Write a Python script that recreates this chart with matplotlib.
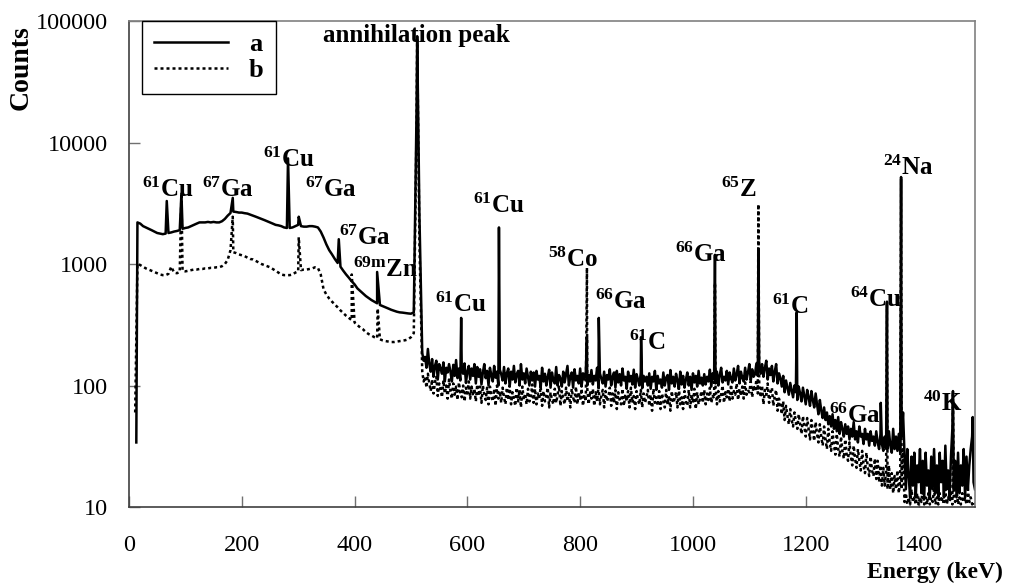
import matplotlib.pyplot as plt
import numpy as np

plt.rcParams['font.family'] = ['Liberation Serif', 'DejaVu Serif']
plt.rcParams['mathtext.fontset'] = 'custom'
plt.rcParams['mathtext.rm'] = 'Liberation Serif:bold'
plt.rcParams['mathtext.it'] = 'Liberation Serif:bold'
plt.rcParams['mathtext.bf'] = 'Liberation Serif:bold'
plt.rcParams['mathtext.default'] = 'rm'

# channel energies (keV): 5 keV bins up to 515, 2.5 keV bins from 520 to 1500
energy_low = np.arange(15, 520, 5)
energy_high = np.arange(520, 1500.1, 2.5)

# spectrum a (solid), 15..515 keV
a_low = [
    2200, 2150, 2050, 2000, 1950, 1900, 1850, 1800, 1780, 1760,
    1780, 1800, 1820, 1850, 1870, 1900, 1950, 1980, 2000, 2050,
    2100, 2150, 2200, 2200, 2200, 2220, 2200, 2220, 2200, 2200,
    2250, 2350, 2500, 2630, 2700, 2680, 2650, 2650, 2620, 2600,
    2550, 2500, 2450, 2400, 2350, 2300, 2250, 2200, 2150, 2100,
    2080, 2050, 2000, 1980, 1980, 2000, 2050, 2100, 2050, 2030,
    2030, 2050, 2050, 2030, 2000, 1850, 1650, 1450, 1300, 1200,
    1100, 1020, 950, 880, 820, 770, 720, 680, 630, 600,
    570, 545, 525, 505, 490, 475, 460, 450, 440, 430,
    420, 412, 405, 400, 398, 395, 392, 390, 400, 20000,
    2500,
]
# spectrum a, 520..1500 keV (one row per 100 keV)
a_high = [
    185, 160, 172, 140, 200, 150, 130, 165, 118, 145, 160, 112, 150, 138, 125, 155, 108, 140, 128, 150,
    130, 108, 148, 120, 162, 115, 138, 110, 140, 125, 152, 105, 130, 145, 112, 138, 120, 150, 104, 142,
    118, 136, 102, 128, 150, 115, 132, 100, 140, 122, 108, 145, 116, 130, 100, 135, 124, 110, 142, 104,
    126, 138, 98, 130, 112, 145, 106, 124, 132, 100, 150, 112, 126, 104, 138, 118, 100, 130, 110, 128,
    98, 132, 112, 120, 96, 140, 108, 125, 100, 118, 135, 96, 128, 110, 104, 142, 100, 122, 114, 98,
    130, 106, 124, 145, 100, 118, 128, 96, 136, 110, 120, 104, 138, 98, 126, 112, 130, 100, 122, 108,
    134, 102, 120, 110, 140, 96, 126, 114, 104, 130, 98, 122, 112, 136, 100, 118, 128, 96, 132, 106,
    124, 100, 138, 110, 118, 94, 130, 108, 120, 102, 135, 96, 124, 112, 100, 128, 95, 120, 108, 118,
    100, 126, 94, 118, 108, 132, 92, 120, 104, 112, 96, 128, 100, 116, 122, 92, 134, 104, 118, 98,
    125, 110, 94, 130, 102, 120, 96, 112, 128, 100, 118, 92, 126, 106, 120, 98, 132, 104, 116, 100,
    124, 102, 118, 108, 135, 98, 126, 112, 104, 130, 100, 122, 140, 106, 118, 110, 132, 102, 128, 114,
    106, 138, 110, 124, 145, 104, 130, 116, 108, 140, 112, 128, 150, 110, 136, 118, 124, 152, 120, 145,
    125, 150, 118, 140, 160, 112, 138, 122, 145, 108, 130, 150, 104, 126, 115, 98, 120, 88, 110, 96,
    84, 105, 92, 80, 100, 88, 76, 98, 86, 74, 96, 82, 70, 92, 80, 68, 90, 76, 66, 86,
    70, 58, 76, 62, 54, 66, 52, 60, 48, 56, 46, 58, 44, 52, 42, 55, 40, 50, 44, 38,
    48, 40, 46, 36, 44, 38, 50, 36, 42, 34, 46, 38, 40, 33, 44, 36, 40, 32, 42, 35,
    38, 32, 42, 34, 30, 40, 33, 29, 38, 31, 30, 42, 32, 28, 44, 30, 38, 29, 40, 28,
    38, 60, 28, 14, 30, 18, 12, 26, 15, 28, 12, 22, 16, 30, 13, 24, 12, 28, 15, 20,
    12, 26, 14, 30, 13, 22, 12, 28, 16, 24, 12, 32, 14, 20, 12, 26, 45, 14, 24, 12,
    28, 13, 22, 15, 30, 12, 26, 14, 22, 30, 38, 16, 14,
]
a_peak_e = [67, 93, 184, 282, 301, 372, 440, 511, 589, 656, 812, 833, 908,
            1039, 1116, 1184, 1333, 1344, 1369, 1461, 1496]
a_peak_c = [3300, 3800, 3500, 7400, 2450, 1600, 860, 75000, 360, 2000, 250, 360, 250,
            1190, 1300, 400, 72, 490, 5200, 90, 55]

# spectrum b (dashed), 15..515 keV
b_low = [
    1000, 980, 950, 920, 900, 880, 860, 840, 820, 810,
    810, 830, 950, 850, 840, 860, 880, 870, 880, 890,
    900, 900, 910, 910, 920, 920, 930, 930, 940, 940,
    960, 1000, 1080, 1300, 1250, 1230, 1200, 1180, 1160, 1130,
    1100, 1090, 1060, 1030, 1000, 980, 960, 940, 910, 880,
    850, 820, 810, 810, 810, 820, 850, 870, 890, 900,
    900, 910, 920, 940, 930, 820, 620, 560, 520, 490,
    465, 440, 415, 395, 375, 360, 345, 330, 315, 300,
    290, 275, 265, 258, 250, 245, 240, 235, 232, 230,
    228, 228, 230, 232, 234, 236, 240, 250, 270, 15000,
    1500,
]
# spectrum b, 520..1500 keV (one row per 100 keV)
b_high = [
    130, 108, 118, 96, 125, 104, 90, 112, 86, 106, 118, 82, 104, 94, 80, 110, 86, 100, 78, 112,
    90, 78, 104, 84, 98, 76, 106, 88, 80, 100, 74, 96, 86, 108, 78, 98, 82, 94, 74, 102,
    82, 98, 72, 100, 84, 76, 96, 70, 98, 82, 74, 94, 68, 100, 78, 90, 72, 96, 80, 70,
    96, 76, 100, 70, 88, 78, 68, 96, 74, 92, 66, 98, 76, 86, 70, 94, 74, 80, 102, 72,
    94, 70, 86, 78, 98, 68, 90, 74, 82, 96, 66, 88, 76, 70, 94, 72, 84, 100, 68, 90,
    78, 70, 96, 74, 86, 66, 94, 80, 72, 98, 70, 88, 76, 94, 68, 84, 74, 96, 70, 90,
    78, 94, 68, 88, 74, 98, 70, 82, 92, 66, 90, 74, 80, 96, 68, 86, 72, 92, 64, 88,
    76, 70, 94, 68, 84, 74, 90, 66, 96, 72, 82, 64, 90, 76, 70, 92, 66, 86, 72, 80,
    92, 68, 84, 62, 94, 72, 80, 68, 90, 64, 86, 76, 66, 92, 70, 82, 62, 90, 72, 78,
    88, 66, 96, 70, 80, 64, 90, 74, 68, 92, 66, 84, 72, 94, 64, 88, 70, 78, 90, 72,
    92, 70, 86, 76, 96, 72, 82, 78, 98, 70, 90, 74, 84, 100, 72, 88, 80, 94, 74, 102,
    78, 90, 84, 104, 76, 94, 82, 98, 78, 106, 84, 92, 88, 108, 80, 100, 90, 112, 86, 104,
    80, 100, 70, 92, 84, 104, 72, 88, 96, 68, 82, 92, 62, 78, 70, 58, 74, 52, 68, 56,
    48, 64, 52, 46, 60, 50, 44, 58, 48, 40, 56, 46, 38, 54, 44, 36, 52, 42, 35, 50,
    40, 34, 48, 38, 32, 46, 36, 30, 44, 34, 29, 42, 32, 27, 40, 30, 26, 38, 29, 25,
    36, 27, 24, 34, 26, 22, 32, 25, 21, 30, 24, 20, 29, 22, 19, 28, 21, 18, 26, 20,
    18, 25, 17, 24, 16, 22, 15, 21, 15, 20, 14, 22, 14, 19, 13, 18, 14, 20, 13, 17,
    14, 30, 11, 13, 10.5, 12, 10.5, 14, 11, 12, 10.5, 13, 10.5, 12, 11, 14, 10.5, 12, 10.5, 13,
    10.5, 12, 11, 14, 10.5, 12, 10.5, 13, 11, 12, 10.5, 14, 10.5, 12, 11, 13, 10.5, 12, 11, 14,
    10.5, 12, 10.5, 13, 11, 12, 10.5, 14, 11, 12, 10.5, 11, 10.5,
]
b_peak_e = [93, 184, 301, 395, 441, 511, 812, 1039, 1116, 1344, 1369, 1461]
b_peak_c = [3800, 2450, 1660, 820, 430, 70000, 930, 700, 3100, 480, 5000, 88]

# start of the spectra (lower-level discriminator edge)
a_start = (13, 34)
b_start = (11, 60)

# peak labels: (text, energy, counts at baseline)
labels = [
    (r'$^{61}$Cu', 23, 3560),
    (r'$^{67}$Ga', 129, 3560),
    (r'$^{61}$Cu', 238, 6280),
    (r'$^{67}$Ga', 312, 3560),
    (r'$^{67}$Ga', 372, 1430),
    (r'$^{69m}$Zn', 397, 782),
    (r'$^{61}$Cu', 543, 403),
    (r'$^{61}$Cu', 610, 2630),
    (r'$^{58}$Co', 743, 944),
    (r'$^{66}$Ga', 826, 427),
    (r'$^{61}$C', 887, 196),
    (r'$^{66}$Ga', 968, 1038),
    (r'$^{65}$Z', 1050, 3560),
    (r'$^{61}$C', 1140, 387),
    (r'$^{66}$Ga', 1241, 49),
    (r'$^{64}$Cu', 1278, 443),
    (r'$^{24}$Na', 1337, 5410),
    (r'$^{40}$K', 1408, 62),
]


def build_series(start, low, high, peak_e, peak_c):
    assert len(low) == len(energy_low) and len(high) == len(energy_high)
    x = np.concatenate([[start[0]], energy_low, energy_high, peak_e])
    y = np.concatenate([[start[1]], low, high, peak_c])
    order = np.argsort(x, kind='stable')
    return x[order], y[order]


xa, ya = build_series(a_start, a_low, a_high, a_peak_e, a_peak_c)
xb, yb = build_series(b_start, b_low, b_high, b_peak_e, b_peak_c)

fig = plt.figure(figsize=(10.1, 5.85), dpi=100)
ax = fig.add_axes([0.1277, 0.1333, 0.8376, 0.8308])

line_b, = ax.plot(xb, yb, color='black', lw=1.8, linestyle=(0, (1.2, 1.2)), label='b')
line_a, = ax.plot(xa, ya, color='black', lw=1.8, label='a')

ax.set_yscale('log')
ax.set_xlim(0, 1500)
ax.set_ylim(10, 100000)
ax.set_xticks(range(0, 1401, 200))
ax.set_yticks([10, 100, 1000, 10000, 100000])
ax.set_yticklabels(['10', '100', '1000', '10000', '100000'])
ax.minorticks_off()
ax.tick_params(direction='in', length=8, width=1, color='#707070',
               labelsize=17.5)
ax.tick_params(axis='y', pad=15)
ax.tick_params(axis='x', pad=20)

for side in ['top', 'right']:
    ax.spines[side].set_color('#808080')
for side in ['left', 'bottom']:
    ax.spines[side].set_color('#404040')
for sp in ax.spines.values():
    sp.set_linewidth(1.2)

fig.text(0.021, 0.885, 'Counts', rotation=90, fontsize=20, fontweight='bold',
         ha='center', va='center')
fig.text(0.993, 0.004, 'Energy (keV)', fontsize=17, fontweight='bold',
         ha='right', va='bottom')

ax.text(344, 67200, 'annihilation peak', fontsize=18, fontweight='bold',
        ha='left', va='baseline')
for txt, e, c in labels:
    ax.text(e, c, txt, fontsize=18, fontweight='bold', ha='left', va='baseline')

leg = ax.legend(handles=[line_a, line_b], loc='upper left',
                bbox_to_anchor=(0.0154, 1.0), borderaxespad=0,
                fancybox=False, edgecolor='black', framealpha=1,
                prop={'weight': 'bold', 'size': 19}, handlelength=2.8,
                handletextpad=0.8, labelspacing=0.1, borderpad=0.45)
leg.get_frame().set_linewidth(1.0)

fig.savefig('out.png', dpi=100)
